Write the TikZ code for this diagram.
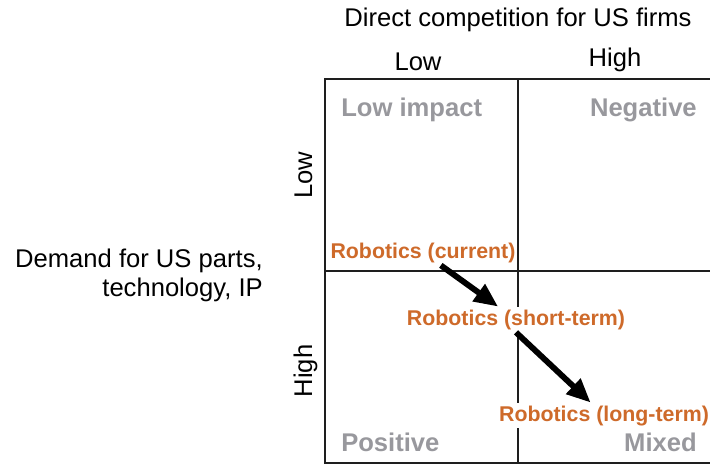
\documentclass[tikz,border=0pt]{standalone}
\usepackage{fontspec}
\setmainfont{Liberation Sans}
\usepackage{tikz}
\usetikzlibrary{arrows.meta}
\usetikzlibrary{positioning}
\definecolor{robo}{RGB}{206,106,42}
\definecolor{quad}{RGB}{152,152,157}
\definecolor{grid}{RGB}{30,30,30}

\begin{document}
\begin{tikzpicture}[x=0.75pt, y=-0.75pt, >={Triangle[length=18pt, width=15pt]}]
	\tikzstyle{axis} = [font=\fontsize{19.2}{23}\selectfont, inner sep=0pt];
	\tikzstyle{quadrant} = [font=\bfseries\fontsize{19.2}{23}\selectfont, text=quad, inner sep=0pt];
	\tikzstyle{robot} = [font=\bfseries\fontsize{16}{19}\selectfont, text=robo, fill=white, inner xsep=0.8pt, inner ysep=2pt];
	\tikzstyle{gridline} = [draw=grid, line width=1.5pt];
	\tikzstyle{move} = [->, line width=4.4pt];

	\useasboundingbox (0,0) rectangle (710,465);

	% matrix
	\draw [gridline] (710,79) -- (325,79) -- (325,463) -- (710,463);
	\draw [gridline] (518,79) -- (518,463);
	\draw [gridline] (325,271) -- (710,271);

	% axis labels
	\node [axis, anchor=base]              (title)    at (518,26)  {Direct competition for US firms};
	\node [axis, anchor=base]              (col_low)  at (418,70)  {Low};
	\node [axis, anchor=base]              (col_high) at (615,66)  {High};
	\node [axis, anchor=base, rotate=90]   (row_low)  at (312,175) {Low};
	\node [axis, anchor=base, rotate=90]   (row_high) at (312,371) {High};
	\node [axis, anchor=base east]         (demand)   at (263,267) {Demand for US parts,};
	\node [axis, anchor=base east]         (tech)     at (263,296) {technology, IP};

	% quadrants
	\node [quadrant, anchor=base west]     (low_impact) at (341,116) {Low impact};
	\node [quadrant, anchor=base east]     (negative)   at (697,116) {Negative};
	\node [quadrant, anchor=base west]     (positive)   at (341,451) {Positive};
	\node [quadrant, anchor=base east]     (mixed)      at (697,451) {Mixed};

	% robotics path
	\node [robot, anchor=base] (r_current) at (423,258) {Robotics (current)};
	\node [robot, anchor=base] (r_short)   at (516,325) {Robotics (short-term)};
	\node [robot, anchor=base] (r_long)    at (604,421) {Robotics (long-term)};

	\draw [move] (r_current) -- (r_short);
	\draw [move] (r_short.south) -- ([xshift=-10pt]r_long.north);
\end{tikzpicture}
\end{document}
